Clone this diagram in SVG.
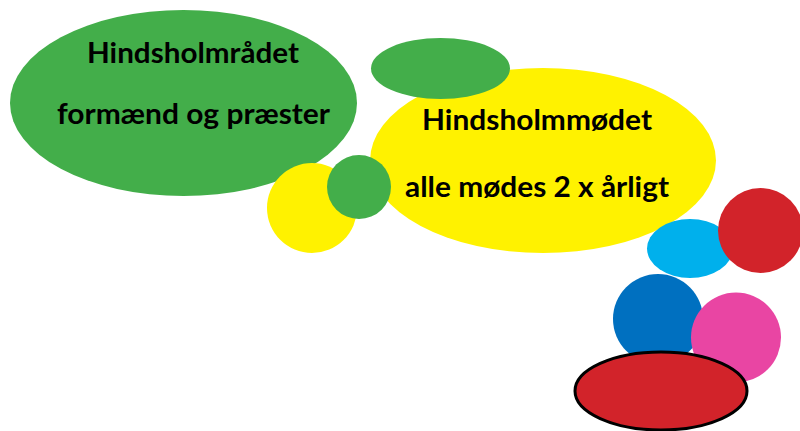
<svg xmlns="http://www.w3.org/2000/svg" width="800" height="431" viewBox="0 0 800 431">
<style>
.g{fill:#43ae4a}.y{fill:#fff200}
.t{font-family:Lato,"Open Sans","Liberation Sans",sans-serif;font-weight:bold;font-size:28px;fill:#000;text-anchor:middle}
</style>
<rect width="800" height="431" fill="#fff"/>
<g id="hindsholmraadet">
<ellipse class="g" cx="183.5" cy="103" rx="173.5" ry="93"/>
<text class="t" x="193" y="63" textLength="212" lengthAdjust="spacingAndGlyphs">Hindsholmrådet</text>
<text class="t" x="193.5" y="124" textLength="273" lengthAdjust="spacingAndGlyphs">formænd og præster</text>
</g>
<g id="yellow-small"><circle class="y" cx="312" cy="208" r="45"/></g>
<g id="hindsholmmoedet">
<ellipse class="y" cx="543" cy="160.5" rx="173" ry="92.5"/>
</g>
<g id="green-top"><ellipse class="g" cx="440.5" cy="68.5" rx="69.5" ry="30.5"/></g>
<g id="green-small"><circle class="g" cx="359" cy="187" r="32"/></g>
<g id="moedet-text">
<text class="t" x="537" y="130" textLength="230" lengthAdjust="spacingAndGlyphs">Hindsholmmødet</text>
<text class="t" x="537" y="197" textLength="264" lengthAdjust="spacingAndGlyphs">alle mødes 2 x årligt</text>
</g>
<g id="lightblue"><ellipse cx="690" cy="248.5" rx="43" ry="29.5" fill="#00b0ec"/></g>
<g id="red-top"><circle cx="760.5" cy="230.5" r="42.5" fill="#d2232a"/></g>
<g id="blue"><circle cx="658" cy="319" r="45" fill="#0070c0"/></g>
<g id="pink"><circle cx="736" cy="337.5" r="45" fill="#e945a3"/></g>
<g id="red-bottom"><ellipse cx="661" cy="391" rx="86" ry="39" fill="#d2232a" stroke="#000" stroke-width="3"/></g>
<g id="connectors"/>
</svg>
